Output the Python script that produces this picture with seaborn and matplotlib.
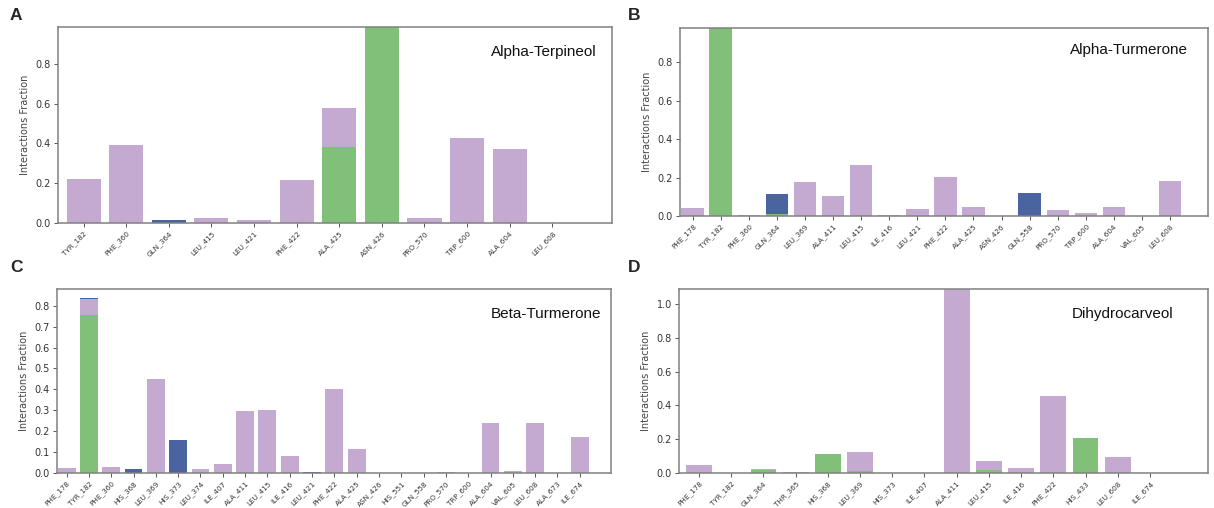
import numpy as np
import pandas as pd
import seaborn as sns
import matplotlib as mpl
mpl.use('Agg')
import matplotlib.pyplot as plt

# ---------------- data ----------------
# A: Alpha-Terpineol
res_a = ['TYR_182', 'PHE_360', 'GLN_364', 'LEU_415', 'LEU_421', 'PHE_422',
         'ALA_425', 'ASN_426', 'PRO_570', 'TRP_600', 'ALA_604', 'LEU_608']
hb_a = [0, 0, 0, 0, 0, 0, 0.382, 0.99, 0, 0, 0, 0]
hp_a = [0.221, 0.392, 0, 0.027, 0.017, 0.216, 0.194, 0, 0.027, 0.428, 0.374, 0]
wb_a = [0, 0, 0.013, 0, 0, 0, 0, 0, 0, 0, 0, 0]

# B: Alpha-Turmerone
res_b = ['PHE_178', 'TYR_182', 'PHE_360', 'GLN_364', 'LEU_369', 'ALA_411',
         'LEU_415', 'ILE_416', 'LEU_421', 'PHE_422', 'ALA_425', 'ASN_426',
         'GLN_558', 'PRO_570', 'TRP_600', 'ALA_604', 'VAL_605', 'LEU_608']
hb_b = [0, 0.98, 0, 0.009, 0, 0, 0, 0, 0, 0, 0, 0, 0, 0, 0, 0, 0, 0]
hp_b = [0.043, 0, 0.003, 0, 0.176, 0.105, 0.266, 0.003, 0.036, 0.205, 0.045,
        0, 0, 0.031, 0.017, 0.048, 0.001, 0.183]
wb_b = [0, 0, 0, 0.108, 0, 0, 0, 0, 0, 0, 0, 0, 0.12, 0, 0, 0, 0, 0]

# C: Beta-Turmerone
res_c = ['PHE_178', 'TYR_182', 'PHE_360', 'HIS_368', 'LEU_369', 'HIS_373',
         'LEU_374', 'ILE_407', 'ALA_411', 'LEU_415', 'ILE_416', 'LEU_421',
         'PHE_422', 'ALA_425', 'ASN_426', 'HIS_551', 'GLN_558', 'PRO_570',
         'TRP_600', 'ALA_604', 'VAL_605', 'LEU_608', 'ALA_673', 'ILE_674']
hb_c = [0, 0.755, 0, 0, 0, 0, 0, 0, 0, 0, 0, 0,
        0, 0, 0, 0, 0, 0, 0, 0, 0, 0, 0, 0]
hp_c = [0.024, 0.075, 0.027, 0, 0.451, 0, 0.018, 0.043, 0.298, 0.303, 0.081, 0,
        0.402, 0.115, 0.001, 0, 0, 0.003, 0.002, 0.239, 0.011, 0.239, 0, 0.171]
wb_c = [0, 0.005, 0, 0.018, 0, 0.156, 0, 0, 0, 0, 0, 0.004,
        0, 0, 0, 0, 0, 0, 0, 0, 0, 0, 0, 0]

# D: Dihydrocarveol
res_d = ['PHE_178', 'TYR_182', 'GLN_364', 'THR_365', 'HIS_368', 'LEU_369',
         'HIS_373', 'ILE_407', 'ALA_411', 'LEU_415', 'ILE_416', 'PHE_422',
         'HIS_433', 'LEU_608', 'ILE_674']
hb_d = [0, 0, 0.018, 0, 0.114, 0.012, 0, 0, 0, 0.018, 0, 0, 0.206, 0, 0]
hp_d = [0.05, 0, 0.006, 0.003, 0, 0.112, 0, 0.002, 1.09, 0.054, 0.03, 0.459,
        0, 0.092, 0]
wb_d = [0, 0, 0, 0, 0, 0, 0, 0, 0, 0, 0, 0, 0, 0, 0]

titles = ['Alpha-Terpineol', 'Alpha-Turmerone', 'Beta-Turmerone', 'Dihydrocarveol']
letters = ['A', 'B', 'C', 'D']

green = '#80c078'
purple = '#c4aad1'
blue = '#4a64a2'

sns.set_style('white')
plt.rcParams['font.family'] = ['DejaVu Sans']

fig = plt.figure(figsize=(12.14, 5.08), dpi=100)
# axes positions measured in pixels (left, top, right, bottom)
boxes = [(58, 27, 612, 223), (680, 28, 1208, 216),
         (57, 289, 611, 473), (679, 289, 1208, 473)]
W, H = 1214., 508.
panels = [(res_a, hb_a, hp_a, wb_a), (res_b, hb_b, hp_b, wb_b),
          (res_c, hb_c, hp_c, wb_c), (res_d, hb_d, hp_d, wb_d)]
xlims = [(-0.6, 12.4), (-0.45, 18.35), (-0.43, 24.4), (-0.62, 15.8)]
ylims = [0.985, 0.978, 0.88, 1.09]
yticks = [np.arange(0, 0.81, 0.2), np.arange(0, 0.81, 0.2),
          np.arange(0, 0.81, 0.1), np.arange(0, 1.01, 0.2)]
title_pos = [(0.972, 0.872), (0.962, 0.885), (0.982, 0.862), (0.934, 0.862)]
letter_pos = [(10, 16), (628, 16), (10, 268), (628, 268)]

for i, (res, hb, hp, wb) in enumerate(panels):
    l, t, r, b = boxes[i]
    ax = fig.add_axes([l / W, 1 - b / H, (r - l) / W, (b - t) / H])
    df = pd.DataFrame({'residue': res, 'hb': hb, 'hp': hp, 'wb': wb})
    df['hb_hp'] = df['hb'] + df['hp']
    df['total'] = df['hb_hp'] + df['wb']
    # stacked look: draw tallest layer first, then overlay lower layers
    for col, c in [('total', blue), ('hb_hp', purple), ('hb', green)]:
        sns.barplot(ax=ax, data=df, x='residue', y=col, order=res,
                    color=c, saturation=1, errorbar=None, width=0.8,
                    linewidth=0)
    ax.set_xlim(*xlims[i])
    ax.set_ylim(0, ylims[i])
    ax.set_yticks(yticks[i])
    ax.set_yticklabels(['%.1f' % v for v in yticks[i]], fontsize=7, color='#333333')
    ax.set_xticks(range(len(res)))
    ax.set_xticklabels(res, rotation=45, ha='right', rotation_mode='anchor',
                       fontsize=5.2, color='#333333')
    ax.tick_params(axis='both', which='major', direction='out', length=3,
                   width=0.7, color='#555555', pad=2, bottom=True, left=True)
    ax.set_xlabel('')
    ax.set_ylabel('Interactions Fraction', fontsize=7, color='#444444', labelpad=4)
    for sp in ax.spines.values():
        sp.set_color('#808080')
        sp.set_linewidth(1.1)
    ax.text(title_pos[i][0], title_pos[i][1], titles[i], transform=ax.transAxes,
            ha='right', va='center', fontsize=11, family='Liberation Sans',
            color='#111111')
    fig.text(letter_pos[i][0] / W, 1 - letter_pos[i][1] / H, letters[i],
             ha='left', va='center', fontsize=12.5, fontweight='bold',
             family='Liberation Sans')

plt.savefig('out.png', dpi=100, facecolor='white')
